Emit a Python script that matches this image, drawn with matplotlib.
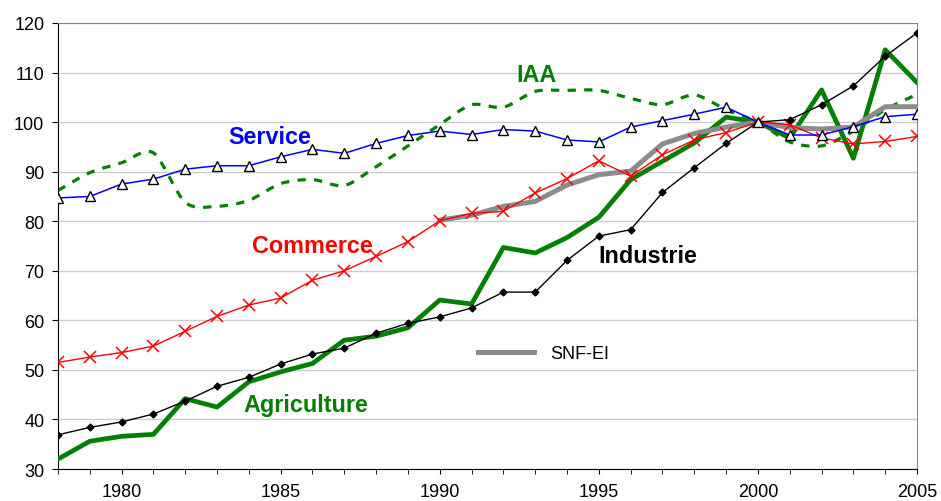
import numpy as np
import matplotlib
matplotlib.use("Agg")
import matplotlib.pyplot as plt
from matplotlib.path import Path
from matplotlib.patches import PathPatch

plt.rcParams["font.family"] = ["Liberation Sans", "DejaVu Sans"]

# data (index, 2000 = 100)
years = list(range(1978, 2006))
service = [84.7, 85.0, 87.5, 88.5, 90.5, 91.2, 91.2, 93.0, 94.5, 93.7, 95.7, 97.3, 98.2, 97.5,
           98.5, 98.2, 96.4, 96.0, 99.0, 100.3, 101.6, 103.0, 100.0, 97.4, 97.4, 99.1, 101.1, 101.6]
commerce = [51.5, 52.6, 53.5, 54.8, 57.8, 60.8, 63.1, 64.5, 68.1, 70.0, 72.9, 75.9, 80.1, 81.6,
            82.0, 85.7, 88.6, 92.2, 89.1, 93.4, 96.4, 97.9, 100.0, 99.5, 96.8, 95.6, 96.1, 97.1]
industrie = [36.9, 38.4, 39.5, 41.1, 43.7, 46.7, 48.5, 51.2, 53.2, 54.4, 57.4, 59.4, 60.7, 62.5,
             65.7, 65.7, 72.1, 77.0, 78.3, 85.8, 90.8, 95.7, 100.0, 100.5, 103.5, 107.3, 113.3, 118.0]
agriculture = [32.0, 35.6, 36.6, 37.0, 44.2, 42.5, 47.6, 49.6, 51.3, 56.0, 56.8, 58.5, 64.1, 63.3,
               74.7, 73.6, 76.7, 80.8, 88.4, 92.1, 95.8, 101.0, 100.0, 96.8, 106.5, 92.7, 114.6, 108.0]
iaa = [86.2, 89.8, 91.8, 93.8, 83.8, 83.0, 84.2, 87.6, 88.4, 87.2, 91.0, 95.2, 99.5, 103.5,
       103.0, 106.2, 106.4, 106.4, 104.8, 103.5, 105.5, 102.5, 100.0, 96.0, 95.2, 98.2, 102.5, 105.6]
snf_years = list(range(1990, 2006))
snf_ei = [80.2, 81.2, 83.0, 84.0, 87.3, 89.4, 90.1, 95.6, 97.7, 99.0, 100.0, 98.9, 98.6, 99.0,
          103.1, 103.1]


def smooth_path(xs, ys, tension=1 / 7):
    # Excel-like smoothed line: Catmull-Rom segments as cubic Bezier curves
    x = np.asarray(xs, float)
    y = np.asarray(ys, float)
    n = len(x)
    verts = [(x[0], y[0])]
    codes = [Path.MOVETO]
    for i in range(n - 1):
        x0, y0 = (x[i - 1], y[i - 1]) if i > 0 else (x[i], y[i])
        x3, y3 = (x[i + 2], y[i + 2]) if i + 2 < n else (x[i + 1], y[i + 1])
        c1 = (x[i] + (x[i + 1] - x0) * tension, y[i] + (y[i + 1] - y0) * tension)
        c2 = (x[i + 1] - (x3 - x[i]) * tension, y[i + 1] - (y3 - y[i]) * tension)
        verts += [c1, c2, (x[i + 1], y[i + 1])]
        codes += [Path.CURVE4] * 3
    return Path(verts, codes)


fig = plt.figure(figsize=(9.41, 5.02), dpi=100)
ax = fig.add_axes([0.0616, 0.0637, 0.9129, 0.8885])

green = "#008000"

ax.add_patch(PathPatch(smooth_path(years, iaa), facecolor="none", edgecolor=green,
                       lw=2.3, linestyle=(0, (2.6, 2.6)), zorder=2))
ax.plot(years, agriculture, color=green, lw=3.4, zorder=3)
ax.plot(snf_years, snf_ei, color="#8c8c8c", lw=3.6, zorder=4, label="SNF-EI")
ax.plot(years, commerce, color="red", lw=1.0, marker="x", ms=8, mew=1.1, zorder=5)
ax.plot(years, industrie, color="black", lw=1.0, marker="D", ms=3.5, zorder=6)
ax.plot(years, service, color="blue", lw=1.1, marker="^", ms=7.5, mfc="white",
        mec="black", mew=1.0, zorder=7)

ax.set_xlim(1978, 2005)
ax.set_ylim(30, 120)
ax.set_yticks(range(30, 121, 10))
ax.set_xticks(range(1980, 2006, 5))
ax.set_xticks(years, minor=True)
ax.tick_params(axis="both", labelsize=13, direction="out", colors="black")
ax.tick_params(axis="x", which="both", length=3.6, pad=6.5)
ax.tick_params(axis="y", length=4.3, pad=5.5)
ax.grid(axis="y", color="#cccccc", lw=1.0)
ax.set_axisbelow(True)

for side in ("top", "right"):
    ax.spines[side].set_color("#888888")
for side in ("left", "bottom"):
    ax.spines[side].set_color("black")

# series labels written inside the plot
lab = dict(fontsize=16.8, fontweight="bold", ha="left", va="baseline")
ax.text(1983.35, 95.85, "Service", color="blue", **lab)
ax.text(1992.4, 108.3, "IAA", color=green, **lab)
ax.text(1984.1, 73.7, "Commerce", color="red", **lab)
ax.text(1994.98, 71.7, "Industrie", color="black", **lab)
ax.text(1983.82, 41.7, "Agriculture", color=green, **lab)

ax.legend(loc="center left", bbox_to_anchor=(0.489, 0.258), frameon=False, fontsize=13,
          handlelength=3.1, handletextpad=0.9, borderpad=0, borderaxespad=0)

fig.savefig("out.png", dpi=100)
